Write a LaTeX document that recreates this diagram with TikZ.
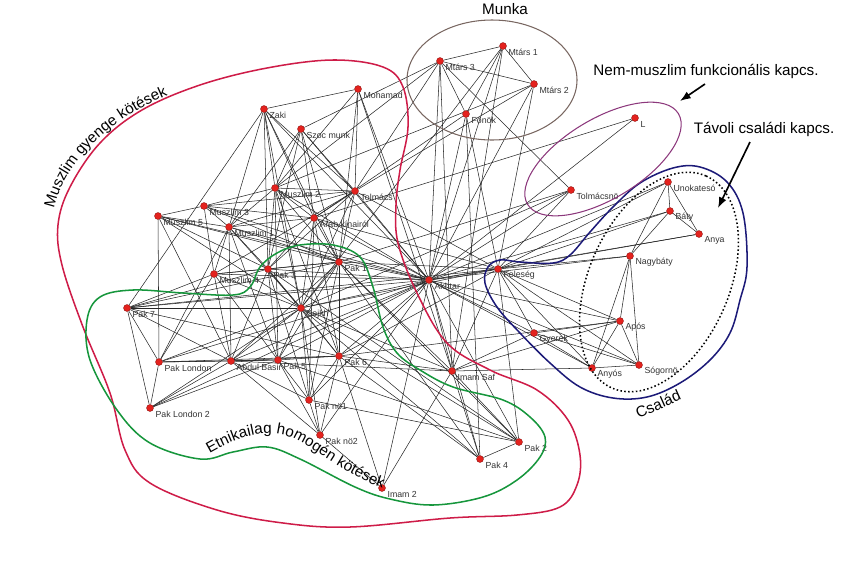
\documentclass[tikz,border=0pt]{standalone}
\usepackage{fontspec}
\setmainfont{Liberation Sans}
\usetikzlibrary{arrows.meta}
\usetikzlibrary{decorations.text}
\pgfdeclarelayer{edges}
\pgfsetlayers{edges,main}
\newcommand{\lblfont}{\fontsize{7.5pt}{9pt}\selectfont}
\newcommand{\bigfont}{\fontsize{13pt}{15pt}\selectfont}
\definecolor{mred}{RGB}{206, 28, 72}
\definecolor{mgreen}{RGB}{22, 150, 60}
\definecolor{mnavy}{RGB}{28, 26, 120}
\definecolor{mbrown}{RGB}{120, 102, 96}
\definecolor{mpurple}{RGB}{140, 56, 124}
\definecolor{mdot}{RGB}{228, 34, 30}
\tikzset{circ/.style = {fill=mdot, draw=mdot!60!black, line width=0.3pt, circle, inner sep=0, minimum size=0.21cm}}
\tikzset{lbl/.style = {font=\lblfont, text=black!80, inner sep=0pt, label distance=0.05cm, yshift=-0.18cm}}
\tikzset{edge/.style = {black!85, line width=0.45pt}}
\tikzset{group/.style = {line width=1.3pt}}
\tikzset{pointer/.style = {-{Latex[length=3.2mm, width=2.4mm]}, line width=1.4pt}}

\begin{document}
\begin{tikzpicture}[x=0.03cm, y=-0.03cm]
  \useasboundingbox (0, 0) rectangle (844, 574);

  % muszlim and pakisztani contacts
  \node [circ, label={[lbl]right:Mohamad}] (mohamad) at (358, 89) {};
  \node [circ, label={[lbl]right:Zaki}] (zaki) at (264, 109) {};
  \node [circ, label={[lbl]right:Szoc munk}] (szoc) at (301, 129) {};
  \node [circ, label={[lbl]right:Muszlim 2}] (musz2) at (275, 188) {};
  \node [circ, label={[lbl]right:Tolmács}] (tolmacs) at (355, 191) {};
  \node [circ, label={[lbl]right:Muszlim 3}] (musz3) at (204, 206) {};
  \node [circ, label={[lbl]right:Muszlim 5}] (musz5) at (158, 216) {};
  \node [circ, label={[lbl]right:Arab kínairól}] (arab) at (314, 218) {};
  \node [circ, label={[lbl]right:Muszlim 1}] (musz1) at (229, 227) {};
  \node [circ, label={[lbl]right:Pak 1}] (pak1) at (339, 262) {};
  \node [circ, label={[lbl]right:Pak 3}] (pak3) at (268, 269) {};
  \node [circ, label={[lbl]right:Muszlim 4}] (musz4) at (214, 274) {};
  \node [circ, label={[lbl]right:Pak 7}] (pak7) at (127, 308) {};
  \node [circ, label={[lbl]right:Sejkh}] (sejkh) at (301, 308) {};
  \node [circ, label={[lbl]right:Pak London}] (paklon) at (159, 362) {};
  \node [circ, label={[lbl]right:Abdul Basir}] (abdul) at (231, 361) {};
  \node [circ, label={[lbl]right:Pak 5}] (pak5) at (278, 360) {};
  \node [circ, label={[lbl]right:Pak 6}] (pak6) at (339, 356) {};
  \node [circ, label={[lbl]right:Pak nö1}] (pakno1) at (309, 400) {};
  \node [circ, label={[lbl]right:Pak nö2}] (pakno2) at (320, 435) {};
  \node [circ, label={[lbl]right:Pak London 2}] (paklon2) at (150, 408) {};
  \node [circ, label={[lbl]right:Imam 2}] (imam2) at (382, 488) {};
  \node [circ, label={[lbl]right:Imam Saf}] (imamsaf) at (452, 371) {};
  \node [circ, label={[lbl]right:Pak 2}] (pak2) at (519, 442) {};
  \node [circ, label={[lbl]right:Pak 4}] (pak4) at (480, 459) {};
  \node [circ, label={[lbl]right:Akhtar}] (akhtar) at (429, 280) {};

  % munka
  \node [circ, label={[lbl]right:Mtárs 1}] (mtars1) at (503, 46) {};
  \node [circ, label={[lbl]right:Mtárs 3}] (mtars3) at (440, 61) {};
  \node [circ, label={[lbl]right:Mtárs 2}] (mtars2) at (534, 84) {};
  \node [circ, label={[lbl]right:Fönök}] (fonok) at (466, 114) {};
  \node [circ, label={[lbl]right:L}] (L) at (635, 118) {};
  \node [circ, label={[lbl]right:Tolmácsnö}] (tolmacsno) at (571, 190) {};

  % csalad
  \node [circ, label={[lbl]right:Unokatesó}] (unoka) at (668, 182) {};
  \node [circ, label={[lbl]right:Báty}] (baty) at (670, 211) {};
  \node [circ, label={[lbl]right:Anya}] (anya) at (699, 234) {};
  \node [circ, label={[lbl]right:Nagybáty}] (nagybaty) at (630, 256) {};
  \node [circ, label={[lbl]right:Feleség}] (feleseg) at (498, 269) {};
  \node [circ, label={[lbl]right:Após}] (apos) at (620, 321) {};
  \node [circ, label={[lbl]right:Gyerek}] (gyerek) at (534, 333) {};
  \node [circ, label={[lbl]right:Anyós}] (anyos) at (592, 368) {};
  \node [circ, label={[lbl]right:Sógornö}] (sogorno) at (639, 365) {};

  \begin{pgfonlayer}{edges}
    \foreach \b in {mtars3, mtars1, mtars2, fonok, L, tolmacsno, feleseg, nagybaty, baty, anya,
                    unoka, apos, gyerek, anyos, sogorno, imamsaf, pak2, pak4, imam2, mohamad,
                    szoc, zaki, musz2, tolmacs, arab, musz3, musz5, musz1, musz4, pak1, pak3,
                    pak7, sejkh, paklon, abdul, pak5, pak6, pakno1, pakno2, paklon2}
      \draw [edge] (akhtar) -- (\b);
    \foreach \a/\b in {mtars3/mtars1, mtars3/mtars2, mtars1/mtars2, mtars3/fonok, mtars1/fonok,
                       mtars3/tolmacsno, mtars3/tolmacs, mtars3/szoc, mtars3/musz2, mtars3/imamsaf,
                       mtars1/imamsaf, mtars1/sejkh, mtars2/feleseg, mtars2/tolmacs, mtars2/musz2,
                       fonok/feleseg, fonok/pak4, fonok/arab, L/arab, tolmacsno/feleseg,
                       tolmacsno/sejkh, tolmacsno/pak1,
                       unoka/baty, unoka/anya, unoka/nagybaty, baty/anya, baty/nagybaty,
                       nagybaty/apos, nagybaty/anyos, nagybaty/sogorno, apos/anyos, apos/sogorno,
                       anyos/sogorno, gyerek/apos, gyerek/anyos, gyerek/sogorno, feleseg/nagybaty,
                       feleseg/anya, feleseg/baty, feleseg/unoka, feleseg/gyerek, feleseg/apos,
                       feleseg/anyos, feleseg/sogorno, imamsaf/anyos, imamsaf/apos, imamsaf/gyerek,
                       feleseg/sejkh, feleseg/pak1, feleseg/imamsaf, feleseg/pak2, feleseg/pak6,
                       feleseg/pak7, feleseg/arab, feleseg/tolmacs, apos/pak6,
                       zaki/mohamad, zaki/pak7, zaki/musz2, zaki/tolmacs, zaki/arab, zaki/pak1,
                       zaki/musz1, zaki/pak3, zaki/sejkh, mohamad/tolmacs, mohamad/musz2,
                       mohamad/pak1, mohamad/imamsaf, szoc/musz2, szoc/musz1, szoc/arab,
                       szoc/pak1, szoc/tolmacs, szoc/pak3,
                       musz5/musz3, musz5/musz1, musz5/paklon, musz5/abdul, musz5/pak3,
                       musz5/sejkh, musz5/pak1, musz3/musz2, musz3/musz1, musz3/arab,
                       musz3/musz4, musz3/pak1, musz3/tolmacs, musz2/tolmacs, musz2/arab,
                       musz2/pak1, musz2/musz1, musz2/pak3, musz2/pak5, musz2/sejkh, musz2/pak6,
                       tolmacs/arab, tolmacs/pak1, tolmacs/musz1, tolmacs/pak3, tolmacs/sejkh,
                       tolmacs/musz4, arab/pak1, arab/pak3, arab/sejkh, arab/musz1, arab/pak6,
                       arab/pakno1, musz1/musz4, musz1/pak3, musz1/abdul, musz1/sejkh,
                       musz1/pak1, musz1/pak5, musz1/paklon, musz4/pak3, musz4/pak7,
                       musz4/abdul, musz4/sejkh, musz4/pak1, musz4/pak5, musz4/paklon,
                       pak3/pak1, pak3/sejkh, pak3/abdul, pak3/pak5, pak3/pak6, pak3/pakno1,
                       pak3/pak7, pak1/sejkh, pak1/pak6, pak1/pak5, pak1/abdul, pak1/pakno1,
                       pak1/pak7, pak1/imamsaf, pak1/pak2, pak1/pak4,
                       pak7/sejkh, pak7/paklon, pak7/paklon2, pak7/abdul, pak7/pak6,
                       sejkh/abdul, sejkh/pak5, sejkh/pak6, sejkh/pakno1, sejkh/pakno2,
                       sejkh/paklon, sejkh/paklon2, sejkh/imamsaf, sejkh/pak2, sejkh/pak4,
                       paklon/abdul, paklon/pak5, paklon/paklon2, paklon/pak6,
                       abdul/pak5, abdul/pak6, abdul/pakno1, abdul/pakno2, abdul/paklon2,
                       abdul/imamsaf, pak5/pak6, pak5/pakno1, pak5/pakno2, pak5/paklon2,
                       pak5/pak2, pak6/pakno1, pak6/pakno2, pak6/imamsaf, pak6/pak4, pak6/imam2,
                       pakno1/pakno2, pakno2/imam2, imam2/imamsaf, imamsaf/pak4,
                       imamsaf/pak2, pak4/pak2, pak2/pak3, pak2/pakno1}
      \draw [edge] (\a) -- (\b);
  \end{pgfonlayer}

  % groups
  \draw [group, mred] plot [smooth cycle, tension=0.6] coordinates {
    (333,60) (383,67) (403,87) (408,127) (400,170) (396,205) (398,243) (417,293)
    (447,343) (490,370) (537,390) (568,420) (580,455) (577,485) (560,507) (517,515)
    (450,518) (350,527) (283,523) (217,510) (150,483) (125,450) (110,393) (83,327)
    (62,265) (58,225) (70,187) (100,143) (142,110) (200,85) (267,68)};
  \draw [group, mgreen] plot [smooth cycle, tension=0.6] coordinates {
    (277,253) (300,245) (333,245) (360,257) (373,287) (383,327) (397,353) (420,370)
    (453,387) (503,400) (530,417) (545,437) (540,457) (517,480) (483,497) (433,505)
    (390,499) (355,487) (300,459) (267,447) (233,452) (200,459) (150,443) (117,410)
    (90,360) (87,320) (100,297) (133,290) (183,293) (233,295) (250,287) (260,267)};
  \draw [group, mnavy] plot [smooth cycle, tension=0.6] coordinates {
    (500,260) (520,262) (553,263) (570,255) (590,232) (613,207) (640,183) (673,168)
    (700,167) (727,182) (743,213) (747,267) (740,300) (730,333) (710,360) (680,383)
    (647,397) (613,398) (580,387) (550,363) (520,333) (497,307) (485,283) (488,267)};
  \draw [line width=0.9pt, mbrown] (492, 80) ellipse [x radius=85, y radius=60];
  \draw [line width=0.9pt, mpurple] (603, 159) ellipse [x radius=88, y radius=40, rotate=31];
  \draw [line width=1.3pt, dotted] (659, 282) ellipse [x radius=116, y radius=70, rotate=66];

  % texts
  \node [font=\bigfont] (munka) at (505, 9) {Munka};
  \node [font=\bigfont] (nemmusz) at (706, 71) {Nem-muszlim funkcionális kapcs.};
  \node [font=\bigfont] (tavoli) at (764, 129) {Távoli családi kapcs.};
  \node [font=\bigfont, rotate=24] (csalad) at (658, 404) {Család};
  \coordinate (nemtail) at (705, 84);
  \coordinate (nemtip) at (680, 101);
  \coordinate (tavtail) at (750, 142);
  \coordinate (tavtip) at (718, 208);
  \draw [pointer] (nemtail) -- (nemtip);
  \draw [pointer] (tavtail) -- (tavtip);
  \path [decorate, decoration={text along path, text align=center,
         text={|\bigfont|Muszlim gyenge kötések}}]
    (52, 222) .. controls (56, 178) and (92, 124) .. (180, 90);
  \path [decorate, decoration={text along path, text align=center,
         text={|\bigfont|Etnikailag homogén kötések}}]
    (212, 452) .. controls (244, 434) and (274, 426) .. (302, 443)
    .. controls (327, 458) and (352, 477) .. (380, 487);
\end{tikzpicture}
\end{document}
